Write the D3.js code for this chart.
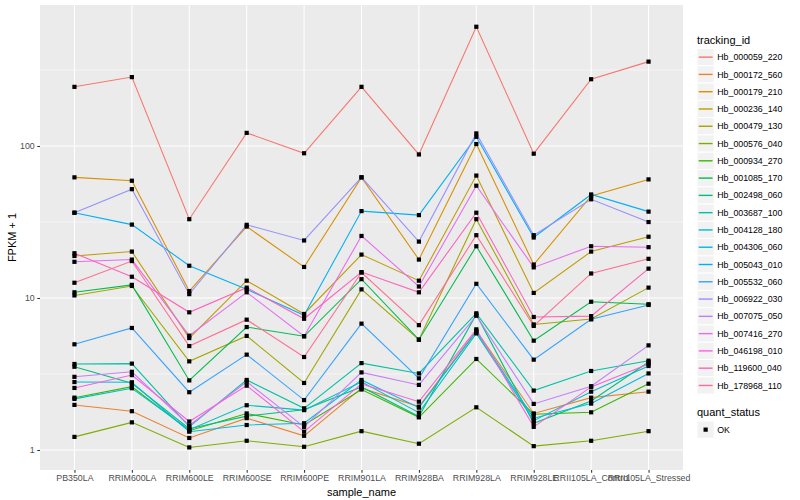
<!DOCTYPE html>
<html>
<head>
<meta charset="utf-8">
<script src="https://cdn.jsdelivr.net/npm/d3@7"></script>
<style>
  body { margin: 0; background: #fff; }
  svg { font-family: "Liberation Sans", Arial, sans-serif; }
  .grid-major line { stroke: #fff; stroke-width: 1.07; }
  .grid-minor line { stroke: #fff; stroke-width: 0.53; }
  .axis path { display: none; }
  .axis line { stroke: #333; stroke-width: 1.07; }
  .axis text { fill: #4d4d4d; font-size: 8.8px; }
</style>
</head>
<body>
<svg class="chart" width="800" height="500"></svg>
<script>
// samples on the x axis
const samples = ['PB350LA', 'RRIM600LA', 'RRIM600LE', 'RRIM600SE', 'RRIM600PE', 'RRIM901LA',
    'RRIM928BA', 'RRIM928LA', 'RRIM928LE', 'RRII105LA_Control', 'RRII105LA_Stressed'];

const trackingIds = ['Hb_000059_220', 'Hb_000172_560', 'Hb_000179_210', 'Hb_000236_140', 'Hb_000479_130',
    'Hb_000576_040', 'Hb_000934_270', 'Hb_001085_170', 'Hb_002498_060', 'Hb_003687_100',
    'Hb_004128_180', 'Hb_004306_060', 'Hb_005043_010', 'Hb_005532_060', 'Hb_006922_030',
    'Hb_007075_050', 'Hb_007416_270', 'Hb_046198_010', 'Hb_119600_040', 'Hb_178968_110'];

// FPKM + 1, one value per sample
const hb_000059_220 = [245, 284, 33, 122, 89.6, 245, 88, 609, 89, 275, 359];
const hb_000172_560 = [1.98, 1.80, 1.20, 1.62, 1.24, 2.55, 1.93, 6.09, 1.74, 2.21, 2.42];
const hb_000179_210 = [62.2, 59.1, 11.1, 29.5, 16.0, 62.2, 17.9, 103, 16.6, 46.9, 60.3];
const hb_000236_140 = [18.9, 20.2, 5.45, 13.0, 7.85, 19.3, 13.0, 63.9, 10.8, 20.2, 25.3];
const hb_000479_130 = [10.4, 12.0, 3.83, 5.63, 2.76, 11.4, 5.32, 33.0, 6.7, 7.27, 11.7];
const hb_000576_040 = [1.22, 1.52, 1.04, 1.15, 1.05, 1.33, 1.10, 1.91, 1.06, 1.15, 1.33];
const hb_000934_270 = [2.21, 2.61, 1.34, 1.74, 1.46, 2.50, 1.64, 3.97, 1.72, 1.77, 2.73];
const hb_001085_170 = [10.9, 12.2, 2.87, 6.44, 5.6, 13.3, 5.32, 21.9, 5.24, 9.45, 9.1];
const hb_002498_060 = [3.53, 2.75, 1.38, 1.67, 1.84, 2.60, 1.66, 7.8, 1.50, 2.10, 3.79];
const hb_003687_100 = [3.68, 3.70, 1.42, 2.89, 1.88, 3.73, 3.19, 7.93, 2.46, 3.31, 3.87];
const hb_004128_180 = [2.17, 2.55, 1.36, 1.97, 1.83, 2.81, 1.76, 5.85, 1.56, 2.42, 3.57];
const hb_004306_060 = [2.80, 2.79, 1.32, 1.46, 1.50, 2.89, 1.90, 6.0, 1.62, 2.02, 3.19];
const hb_005043_010 = [36.4, 30.4, 16.3, 11.4, 7.7, 37.3, 35.1, 115, 25.0, 48.0, 37.0];
const hb_005532_060 = [4.96, 6.35, 2.40, 4.24, 2.13, 6.78, 2.96, 12.4, 3.93, 7.24, 9.0];
const hb_006922_030 = [36.4, 52.0, 10.6, 30.3, 23.9, 62.2, 23.5, 121, 25.9, 44.6, 31.6];
const hb_007075_050 = [3.03, 3.27, 1.45, 2.81, 1.42, 3.24, 2.68, 7.64, 2.01, 2.63, 4.88];
const hb_007416_270 = [17.3, 17.9, 5.65, 10.9, 5.6, 25.6, 11.9, 54.8, 15.9, 21.9, 21.6];
const hb_046198_010 = [2.56, 3.11, 1.54, 2.65, 1.32, 2.72, 2.08, 6.22, 1.42, 2.60, 3.68];
const hb_119600_040 = [19.7, 13.8, 8.05, 11.7, 7.3, 14.8, 10.9, 36.4, 7.5, 7.6, 15.6];
const hb_178968_110 = [12.6, 17.5, 4.83, 7.2, 4.09, 14.7, 6.63, 25.9, 6.55, 14.5, 18.1];

const seriesValues = [hb_000059_220, hb_000172_560, hb_000179_210, hb_000236_140, hb_000479_130,
    hb_000576_040, hb_000934_270, hb_001085_170, hb_002498_060, hb_003687_100,
    hb_004128_180, hb_004306_060, hb_005043_010, hb_005532_060, hb_006922_030,
    hb_007075_050, hb_007416_270, hb_046198_010, hb_119600_040, hb_178968_110];

const yTicks = [1, 10, 100];
const quantStatus = ['OK'];

// ggplot hue palette for 20 groups
const colors = ['#F8766D', '#EA8331', '#D89000', '#C09B00', '#A3A500', '#7CAE00', '#39B600', '#00BB4E',
    '#00BF7D', '#00C1A3', '#00BFC4', '#00BAE0', '#00B0F6', '#35A2FF', '#9590FF', '#C77CFF',
    '#E76BF3', '#FA62DB', '#FF62BC', '#FF6C91'];

const series = trackingIds.map((id, i) => ({
    id: id,
    color: colors[i],
    points: samples.map((s, j) => ({sample: s, value: seriesValues[i][j]}))
}));

const panel = {left: 40, right: 683, top: 5, bottom: 470};
const svg = d3.select('svg.chart');

const xScale = d3.scalePoint()
    .domain(samples)
    .range([panel.left, panel.right])
    .padding(0.6);

// log10 scale, 1 decade = 152px
const yScale = d3.scaleLog()
    .domain([1, 100])
    .range([450, 146]);

// panel background
svg.append('rect')
    .attr('x', panel.left)
    .attr('y', panel.top)
    .attr('width', panel.right - panel.left)
    .attr('height', panel.bottom - panel.top)
    .attr('fill', '#ebebeb');

// minor grid (half decades)
const minor = [Math.sqrt(10), Math.sqrt(1000), Math.sqrt(100000)];
svg.append('g')
    .attr('class', 'grid-minor')
    .selectAll('line')
    .data(minor)
    .enter()
    .append('line')
    .attr('x1', panel.left)
    .attr('x2', panel.right)
    .attr('y1', (d) => yScale(d))
    .attr('y2', (d) => yScale(d));

// major grid
svg.append('g')
    .attr('class', 'grid-major')
    .selectAll('line')
    .data(yTicks)
    .enter()
    .append('line')
    .attr('x1', panel.left)
    .attr('x2', panel.right)
    .attr('y1', (d) => yScale(d))
    .attr('y2', (d) => yScale(d));

svg.append('g')
    .attr('class', 'grid-major')
    .selectAll('line')
    .data(samples)
    .enter()
    .append('line')
    .attr('x1', (d) => xScale(d))
    .attr('x2', (d) => xScale(d))
    .attr('y1', panel.top)
    .attr('y2', panel.bottom);

// axes
svg.append('g')
    .attr('class', 'axis')
    .attr('transform', `translate(${panel.left}, 0)`)
    .call(d3.axisLeft(yScale)
        .tickValues(yTicks)
        .tickFormat(d3.format('d'))
        .tickSize(2.75)
        .tickPadding(2.5));

svg.append('g')
    .attr('class', 'axis')
    .attr('transform', `translate(0, ${panel.bottom})`)
    .call(d3.axisBottom(xScale)
        .tickSize(2.75)
        .tickPadding(2.5));

// axis titles
svg.append('text')
    .attr('x', (panel.left + panel.right) / 2)
    .attr('y', 496)
    .attr('text-anchor', 'middle')
    .attr('font-size', '11px')
    .text('sample_name');

svg.append('text')
    .attr('transform', `translate(16, ${(panel.top + panel.bottom) / 2}) rotate(-90)`)
    .attr('text-anchor', 'middle')
    .attr('font-size', '11px')
    .text('FPKM + 1');

// lines
const line = d3.line()
    .x((d) => xScale(d.sample))
    .y((d) => yScale(d.value));

svg.append('g')
    .selectAll('path')
    .data(series)
    .enter()
    .append('path')
    .attr('d', (d) => line(d.points))
    .attr('fill', 'none')
    .attr('stroke', (d) => d.color)
    .attr('stroke-width', 1.07);

// points
svg.append('g')
    .selectAll('g')
    .data(series)
    .enter()
    .append('g')
    .selectAll('rect')
    .data((d) => d.points)
    .enter()
    .append('rect')
    .attr('x', (d) => xScale(d.sample) - 2.1)
    .attr('y', (d) => yScale(d.value) - 2.1)
    .attr('width', 4.2)
    .attr('height', 4.2)
    .attr('fill', '#000');

// legend: tracking_id
const keySize = 17.28;
const legend = svg.append('g').attr('transform', 'translate(697, 0)');

legend.append('text')
    .attr('x', 0)
    .attr('y', 44)
    .attr('font-size', '11px')
    .text('tracking_id');

const keys = legend.selectAll('.key')
    .data(series)
    .enter()
    .append('g')
    .attr('class', 'key')
    .attr('transform', (d, i) => `translate(0, ${48.5 + i * keySize})`);

keys.append('rect')
    .attr('width', keySize)
    .attr('height', keySize)
    .attr('fill', '#f2f2f2')
    .attr('stroke', '#fff');

keys.append('line')
    .attr('x1', 1.7)
    .attr('x2', keySize - 1.7)
    .attr('y1', keySize / 2)
    .attr('y2', keySize / 2)
    .attr('stroke', (d) => d.color)
    .attr('stroke-width', 1.4);

keys.append('text')
    .attr('x', keySize + 3)
    .attr('y', keySize / 2 + 3.1)
    .attr('font-size', '8.8px')
    .text((d) => d.id);

// legend: quant_status
legend.append('text')
    .attr('x', 0)
    .attr('y', 416)
    .attr('font-size', '11px')
    .text('quant_status');

const qKeys = legend.selectAll('.qkey')
    .data(quantStatus)
    .enter()
    .append('g')
    .attr('class', 'qkey')
    .attr('transform', (d, i) => `translate(0, ${421 + i * keySize})`);

qKeys.append('rect')
    .attr('width', keySize)
    .attr('height', keySize)
    .attr('fill', '#f2f2f2')
    .attr('stroke', '#fff');

qKeys.append('rect')
    .attr('x', keySize / 2 - 2.1)
    .attr('y', keySize / 2 - 2.1)
    .attr('width', 4.2)
    .attr('height', 4.2)
    .attr('fill', '#000');

qKeys.append('text')
    .attr('x', keySize + 3)
    .attr('y', keySize / 2 + 3.1)
    .attr('font-size', '8.8px')
    .text((d) => d);
</script>
</body>
</html>
